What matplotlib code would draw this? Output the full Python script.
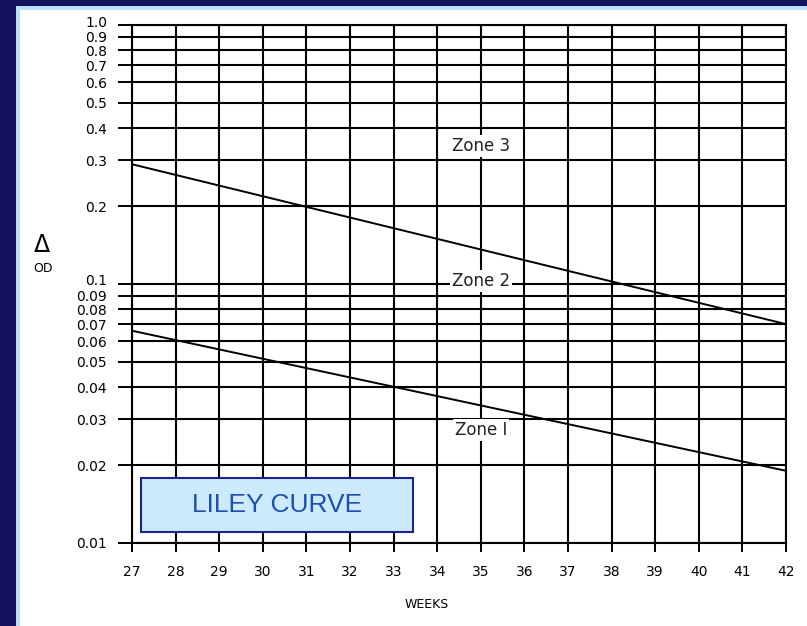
import matplotlib
matplotlib.use("Agg")
import matplotlib.pyplot as plt
from matplotlib.patches import Rectangle
from matplotlib.ticker import NullLocator
from matplotlib.transforms import ScaledTranslation

# ---- data ----
weeks = [27, 42]
upper_line = [0.29, 0.07]      # Zone 3 / Zone 2 boundary
lower_line = [0.066, 0.019]    # Zone 2 / Zone 1 boundary
x_ticks = list(range(27, 43))
y_ticks = [1.0, 0.9, 0.8, 0.7, 0.6, 0.5, 0.4, 0.3, 0.2,
           0.1, 0.09, 0.08, 0.07, 0.06, 0.05, 0.04, 0.03, 0.02, 0.01]
y_tick_labels = ["1.0", "0.9", "0.8", "0.7", "0.6", "0.5", "0.4", "0.3", "0.2",
                 "0.1", "0.09", "0.08", "0.07", "0.06", "0.05", "0.04", "0.03", "0.02", "0.01"]
zone_labels = ["Zone 3", "Zone 2", "Zone I"]
zone_x = [35, 35, 35]
zone_y = [0.341, 0.1025, 0.0273]

W, H = 807, 626
fig = plt.figure(figsize=(W / 100, H / 100), dpi=100)
fig.patch.set_facecolor("white")

# frame decorations (navy border + light blue inner line)
navy = "#15135f"
light = "#b8e0f8"
fig.patches.append(Rectangle((0, 1 - 6 / H), 1, 6 / H, transform=fig.transFigure,
                             facecolor=navy, edgecolor="none", zorder=0))
fig.patches.append(Rectangle((0, 0), 16 / W, 1, transform=fig.transFigure,
                             facecolor=navy, edgecolor="none", zorder=0))
fig.patches.append(Rectangle((16 / W, 1 - 10 / H), 1, 4 / H, transform=fig.transFigure,
                             facecolor=light, edgecolor="none", zorder=0))
fig.patches.append(Rectangle((16 / W, 0), 4 / W, 1 - 6 / H, transform=fig.transFigure,
                             facecolor=light, edgecolor="none", zorder=0))

left, right, top, bottom = 132 / W, 786 / W, 1 - 25 / H, 1 - 543 / H
ax = fig.add_axes([left, bottom, right - left, top - bottom])
ax.set_facecolor("white")
ax.set_yscale("log")
ax.set_xlim(27, 42)
ax.set_ylim(0.01, 1.0)

ax.set_xticks(x_ticks)
ax.set_xticklabels([str(v) for v in x_ticks])
ax.set_yticks(y_ticks)
ax.set_yticklabels(y_tick_labels)
ax.yaxis.set_minor_locator(NullLocator())
ax.xaxis.set_minor_locator(NullLocator())

ax.tick_params(axis="y", direction="out", length=10, width=1.4, pad=8,
               labelsize=10, colors="black")
ax.tick_params(axis="x", direction="out", length=6.5, width=1.4, pad=9,
               labelsize=10, colors="black")

# nudge crowded labels upward (as in the original, where they sit above their lines)
shifts_px = {"1.0": 3.5, "0.1": 4.5}
for lab in ax.get_yticklabels():
    dy = shifts_px.get(lab.get_text())
    if dy:
        lab.set_transform(lab.get_transform() +
                          ScaledTranslation(0, dy / 100, fig.dpi_scale_trans))

ax.grid(True, which="major", color="black", linewidth=1.5)
for s in ax.spines.values():
    s.set_color("black")
    s.set_linewidth(1.5)

ax.plot(weeks, upper_line, color="black", linewidth=1.4, zorder=3)
ax.plot(weeks, lower_line, color="black", linewidth=1.4, zorder=3)

for lab, zx, zy in zip(zone_labels, zone_x, zone_y):
    ax.text(zx, zy, lab, ha="center", va="center", fontsize=12, color="#222222",
            bbox=dict(facecolor="white", edgecolor="none", pad=1.5), zorder=4)

# y-axis label
fig.text(42 / W, 1 - 245 / H, "Δ", ha="center", va="center", fontsize=17, color="black")
fig.text(43 / W, 1 - 268 / H, "OD", ha="center", va="center", fontsize=9, color="black")

# x-axis label
fig.text(427 / W, 1 - 604 / H, "WEEKS", ha="center", va="center", fontsize=9, color="black")

# LILEY CURVE box
bx0, by0, bx1, by1 = 141, 478, 413, 532
fig.patches.append(Rectangle((bx0 / W, 1 - by1 / H), (bx1 - bx0) / W, (by1 - by0) / H,
                             transform=fig.transFigure, facecolor="#cdeafd",
                             edgecolor="#1c2490", linewidth=1.5, zorder=10))
fig.text((bx0 + bx1) / 2 / W, 1 - 505 / H, "LILEY CURVE", ha="center", va="center",
         fontsize=19, color="#1f4fb0", family="Liberation Sans", zorder=11)

fig.savefig("out.png", dpi=100, facecolor=fig.get_facecolor())
